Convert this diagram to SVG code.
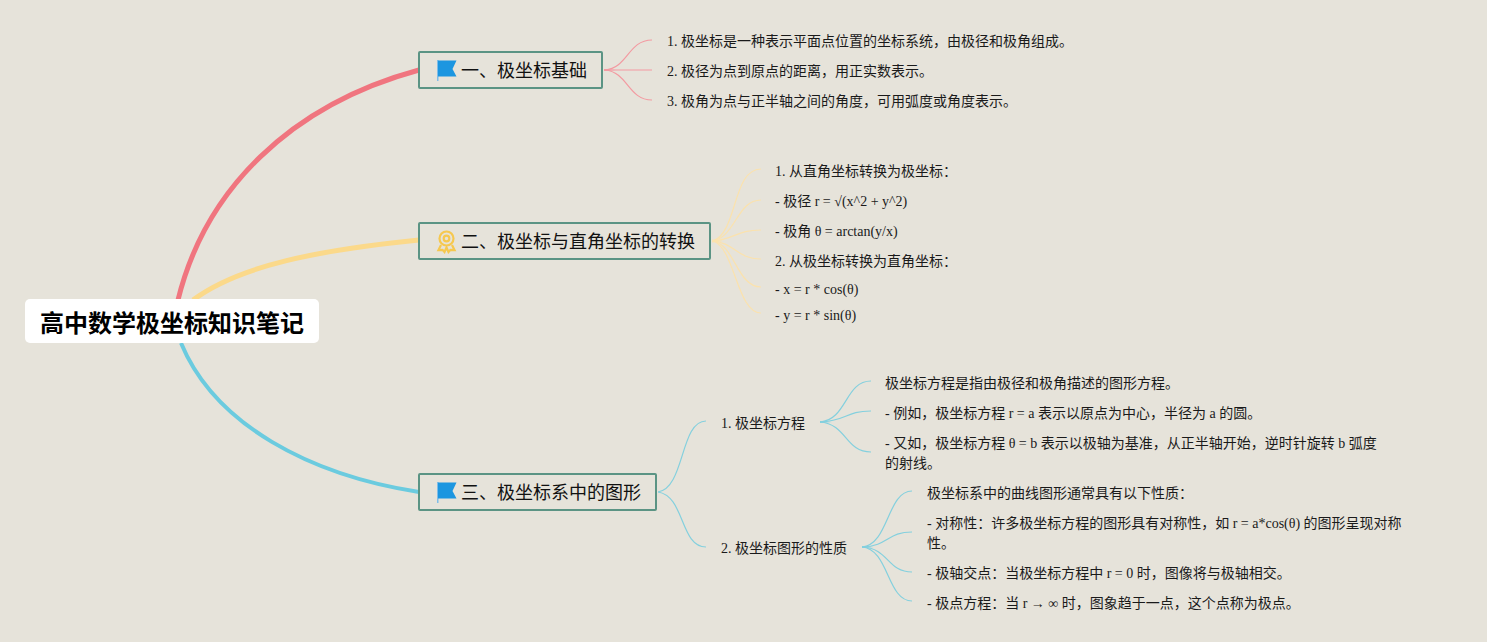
<svg xmlns="http://www.w3.org/2000/svg" width="1487" height="642" viewBox="0 0 1487 642">
<style>
text{font-family:"Liberation Serif","Noto Sans CJK SC",serif;font-size:14px;fill:#1a1a1a}
.topic{fill:#e6e3da;stroke:#5b9484;stroke-width:2}
.tt{font-size:18px;fill:#111}
.root{font-size:24px;font-weight:700;fill:#000}
.c{fill:none}
.r{stroke:#f0757f}.y{stroke:#fbd98a}.b{stroke:#6bcbdf}
.thin{stroke-width:1.200}
.sr{stroke:#f39aa1}.sy{stroke:#fbe2ad}.sb{stroke:#84d0de}
</style>
<defs>
<g id="flag"><rect x="0" y="0" width="1.500" height="21" fill="#7fbde8"/><path d="M1 0.500H19.500L15.500 9L19.500 16.500H1Z" fill="#1c96e0"/></g>
</defs>
<rect width="1487" height="642" fill="#e6e3da"/>
<g id="connectors">
<path class="c r" stroke-width="5" d="M178 300C205 190 290 105 419 70"/>
<path class="c y" stroke-width="5" d="M193 300C240 265 320 250 419 240"/>
<path class="c b" stroke-width="4" d="M181 343C215 425 310 475 419 492"/>
<g class="c sr thin">
<path d="M605 70C628 68 628 40 652 40"/><path d="M605 70H652"/><path d="M605 70C628 72 628 100 652 100"/>
</g>
<path fill="#f39aa1" d="M604 69L616 70L604 71Z"/>
<g class="c sy thin">
<path d="M713 241C738 232 732 169 761 169"/><path d="M713 241C736 236 737 200 761 200"/><path d="M713 241C735 239 737 230 761 230"/><path d="M713 241C735 243 737 259 761 259"/><path d="M713 241C735 245 737 287 761 287"/><path d="M713 241C735 248 737 313 761 313"/>
</g>
<path fill="#fbe2ad" d="M712 239.500L724 241L712 242.500Z"/>
<g class="c sb thin">
<path d="M658 492C685 488 680 421 706 421"/><path d="M658 492C685 496 680 547 706 547"/>
<path d="M820 422C847 420 845 381 871 381"/><path d="M820 422C847 421 845 411 871 411"/><path d="M820 422C847 424 845 452 871 452"/>
<path d="M862 547C889 545 887 491 912 491"/><path d="M862 547C889 546 887 532 912 532"/><path d="M862 547C889 548 887 572 912 572"/><path d="M862 547C889 549 887 601 912 601"/>
</g>
<path fill="#84d0de" d="M820 421L832 422L820 423ZM862 546L874 547L862 548Z"/>
</g>
<g id="root"><rect x="25" y="299" width="294" height="44" rx="5" fill="#fff"/><text class="root" x="40" y="331.500">高中数学极坐标知识笔记</text></g>
<g id="topic1"><rect class="topic" x="419" y="52" width="183" height="36" rx="1"/><use href="#flag" x="437" y="60"/><text class="tt" x="461" y="77">一、极坐标基础</text></g>
<g id="topic2"><rect class="topic" x="419" y="223" width="291" height="36" rx="1"/>
<g fill="none" stroke="#f6c84f" stroke-width="2.200"><circle cx="446.500" cy="238.500" r="7"/><circle cx="446.500" cy="238.500" r="2.800"/><path d="M441 245L438.500 250L442.500 249.800L444.500 252L446.500 247.500L448.500 252L450.500 249.800L454.500 250L452 245"/></g>
<text class="tt" x="461" y="248">二、极坐标与直角坐标的转换</text></g>
<g id="topic3"><rect class="topic" x="419" y="474" width="237" height="36" rx="1"/><use href="#flag" x="437" y="482"/><text class="tt" x="461" y="499">三、极坐标系中的图形</text></g>
<g id="n1"><text x="667" y="46">1. 极坐标是一种表示平面点位置的坐标系统，由极径和极角组成。</text></g>
<g id="n2"><text x="667" y="76">2. 极径为点到原点的距离，用正实数表示。</text></g>
<g id="n3"><text x="667" y="106">3. 极角为点与正半轴之间的角度，可用弧度或角度表示。</text></g>
<g id="n4"><text x="775" y="176">1. 从直角坐标转换为极坐标：</text></g>
<g id="n5"><text x="775" y="206">- 极径 r = √(x^2 + y^2)</text></g>
<g id="n6"><text x="775" y="236">- 极角 θ = arctan(y/x)</text></g>
<g id="n7"><text x="775" y="266">2. 从极坐标转换为直角坐标：</text></g>
<g id="n8"><text x="775" y="294">- x = r * cos(θ)</text></g>
<g id="n9"><text x="775" y="320">- y = r * sin(θ)</text></g>
<g id="n10"><text x="721" y="428">1. 极坐标方程</text></g>
<g id="n11"><text x="721" y="553">2. 极坐标图形的性质</text></g>
<g id="n12"><text x="885" y="388">极坐标方程是指由极径和极角描述的图形方程。</text></g>
<g id="n13"><text x="885" y="418">- 例如，极坐标方程 r = a 表示以原点为中心，半径为 a 的圆。</text></g>
<g id="n14"><text x="885" y="448">- 又如，极坐标方程 θ = b 表示以极轴为基准，从正半轴开始，逆时针旋转 b 弧度</text><text x="885" y="468">的射线。</text></g>
<g id="n15"><text x="927" y="498">极坐标系中的曲线图形通常具有以下性质：</text></g>
<g id="n16"><text x="927" y="528">- 对称性：许多极坐标方程的图形具有对称性，如 r = a*cos(θ) 的图形呈现对称</text><text x="927" y="548">性。</text></g>
<g id="n17"><text x="927" y="578">- 极轴交点：当极坐标方程中 r = 0 时，图像将与极轴相交。</text></g>
<g id="n18"><text x="927" y="608">- 极点方程：当 r → ∞ 时，图象趋于一点，这个点称为极点。</text></g>
</svg>
